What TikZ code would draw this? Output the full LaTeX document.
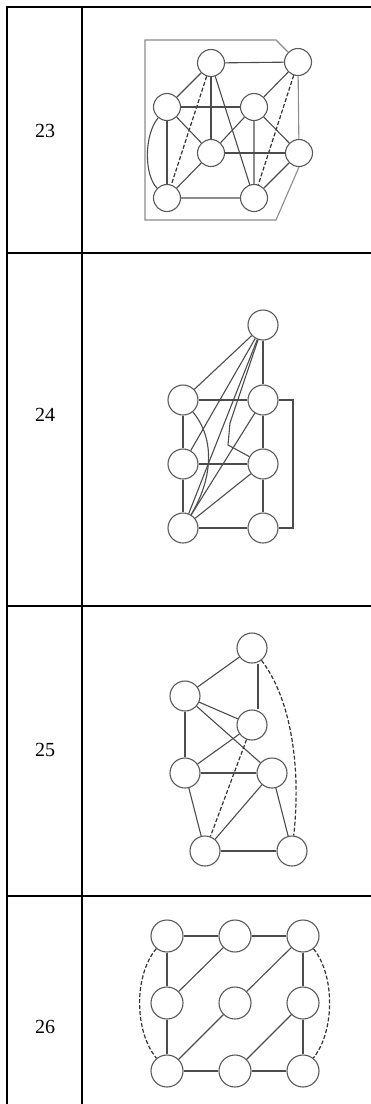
\documentclass[tikz,border=0pt]{standalone}
\usepackage{fontspec}
\setmainfont{Liberation Serif}
\begin{document}
\begin{tikzpicture}[x=1pt,y=-1pt,
  tbl/.style={line width=2pt,black},
  vtx/.style={circle,draw=black!65,line width=1.1pt,inner sep=0pt,minimum size=#1},
  vtx/.default=27pt,
  edge/.style={draw=black!70,line width=1.1pt},
  dedge/.style={draw=black!80,line width=1.2pt,dash pattern=on 4pt off 2pt},
  loop/.style={draw=black!45,line width=1.1pt},
  lbl/.style={font=\fontsize{20}{24}\selectfont}]
\useasboundingbox (0,0) rectangle (371,1104);
% table
\draw[tbl] (6,7) -- (371,7);
\draw[tbl] (7,6) -- (7,1104);
\draw[tbl] (82,6) -- (82,1104);
\draw[tbl] (7,253) -- (371,253);
\draw[tbl] (7,606) -- (371,606);
\draw[tbl] (7,896) -- (371,896);
\node[lbl] (l23) at (45,131) {23};
\node[lbl] (l24) at (45,415) {24};
\node[lbl] (l25) at (45,750) {25};
\node[lbl] (l26) at (45,1027) {26};

% graph 23
\node[vtx] (a) at (211,63) {};
\node[vtx] (b) at (298,62) {};
\node[vtx] (c) at (167,107) {};
\node[vtx] (d) at (254,107) {};
\node[vtx] (e) at (211,153) {};
\node[vtx] (f) at (299,153) {};
\node[vtx] (g) at (167,198) {};
\node[vtx] (h) at (254,198) {};
\draw[loop] (b.north west) -- (276,40) -- (145,40) -- (145,220) -- (276,220) -- (f.south);
\draw[edge] (a) -- (b);
\draw[edge] (a) -- (c);
\draw[edge] (a) -- (e);
\draw[edge] (a) -- (h);
\draw[dedge] (a) -- (g);
\draw[edge] (b) -- (d);
\draw[dedge] (b) -- (h);
\draw[loop] (b) -- (f);
\draw[edge] (c) -- (d);
\draw[edge] (c) -- (e);
\draw[edge] (c) -- (g);
\draw[edge] (c) .. controls (144,135) and (144,175) .. (g);
\draw[edge] (d) -- (e);
\draw[edge] (d) -- (f);
\draw[loop] (d) -- (h);
\draw[edge] (e) -- (f);
\draw[edge] (e) -- (g);
\draw[loop] (g) -- (h);
\draw[edge] (f) -- (h);

% graph 24
\node[vtx=30pt] (t4) at (263,325) {};
\node[vtx=30pt] (l1) at (183,400) {};
\node[vtx=30pt] (r1) at (263,400) {};
\node[vtx=30pt] (l2) at (183,464) {};
\node[vtx=30pt] (r2) at (263,464) {};
\node[vtx=30pt] (l3) at (183,528) {};
\node[vtx=30pt] (r3) at (263,528) {};
\draw[edge] (t4) -- (l1);
\draw[edge] (t4) -- (r1);
\draw[edge] (t4) -- (l2);
\draw[edge] (t4) -- (l3);
\draw[edge] (t4) -- (230,423) -- (228,445) -- (r2);
\draw[edge] (l1) -- (r1);
\draw[edge] (l1) -- (l2);
\draw[edge] (l1) .. controls (216,440) and (212,480) .. (l3);
\draw[edge] (r1) -- (l3);
\draw[edge] (r1) -- (r2);
\draw[edge] (r1.east) -- (293,400) -- (293,528) -- (r3.east);
\draw[edge] (l2) -- (r2);
\draw[edge] (l2) -- (l3);
\draw[edge] (r2) -- (l3);
\draw[edge] (r2) -- (r3);
\draw[edge] (l3) -- (r3);

% graph 25
\node[vtx=30pt] (t5) at (252,648) {};
\node[vtx=30pt] (m5) at (185,696) {};
\node[vtx=30pt] (n5) at (252,725) {};
\node[vtx=30pt] (p5) at (185,773) {};
\node[vtx=30pt] (q5) at (272,773) {};
\node[vtx=30pt] (b5) at (205,851) {};
\node[vtx=30pt] (c5) at (292,851) {};
\draw[edge] (t5) -- (m5);
\draw[edge] ([xshift=6pt]t5.south) -- ([xshift=6pt]n5.north);
\draw[dedge] (t5) .. controls (292,700) and (301,770) .. (c5);
\draw[edge] (m5) -- (n5);
\draw[edge] (m5) -- (q5);
\draw[edge] (m5) -- (p5);
\draw[edge] (n5) -- (p5);
\draw[dedge] (n5) -- (b5);
\draw[edge] (p5) -- (q5);
\draw[edge] (p5) -- (b5);
\draw[edge] (q5) -- (b5);
\draw[edge] (q5) -- (c5);
\draw[edge] (b5) -- (c5);

% graph 26
\node[vtx=32pt] (v1) at (167,936) {};
\node[vtx=32pt] (v2) at (235,936) {};
\node[vtx=32pt] (v3) at (303,936) {};
\node[vtx=32pt] (v4) at (167,1003) {};
\node[vtx=32pt] (v5) at (235,1003) {};
\node[vtx=32pt] (v6) at (303,1003) {};
\node[vtx=32pt] (v7) at (167,1071) {};
\node[vtx=32pt] (v8) at (235,1071) {};
\node[vtx=32pt] (v9) at (303,1071) {};
\draw[edge] (v1) -- (v2);
\draw[edge] (v2) -- (v3);
\draw[edge] (v7) -- (v8);
\draw[edge] (v8) -- (v9);
\draw[edge] (v1) -- (v4);
\draw[edge] (v4) -- (v7);
\draw[edge] (v3) -- (v6);
\draw[edge] (v6) -- (v9);
\draw[edge] (v2) -- (v4);
\draw[edge] (v3) -- (v5);
\draw[edge] (v5) -- (v7);
\draw[edge] (v6) -- (v8);
\draw[dedge] (v1) .. controls (134,975) and (134,1031) .. (v7);
\draw[dedge] (v3) .. controls (335,975) and (335,1031) .. (v9);
\end{tikzpicture}
\end{document}
